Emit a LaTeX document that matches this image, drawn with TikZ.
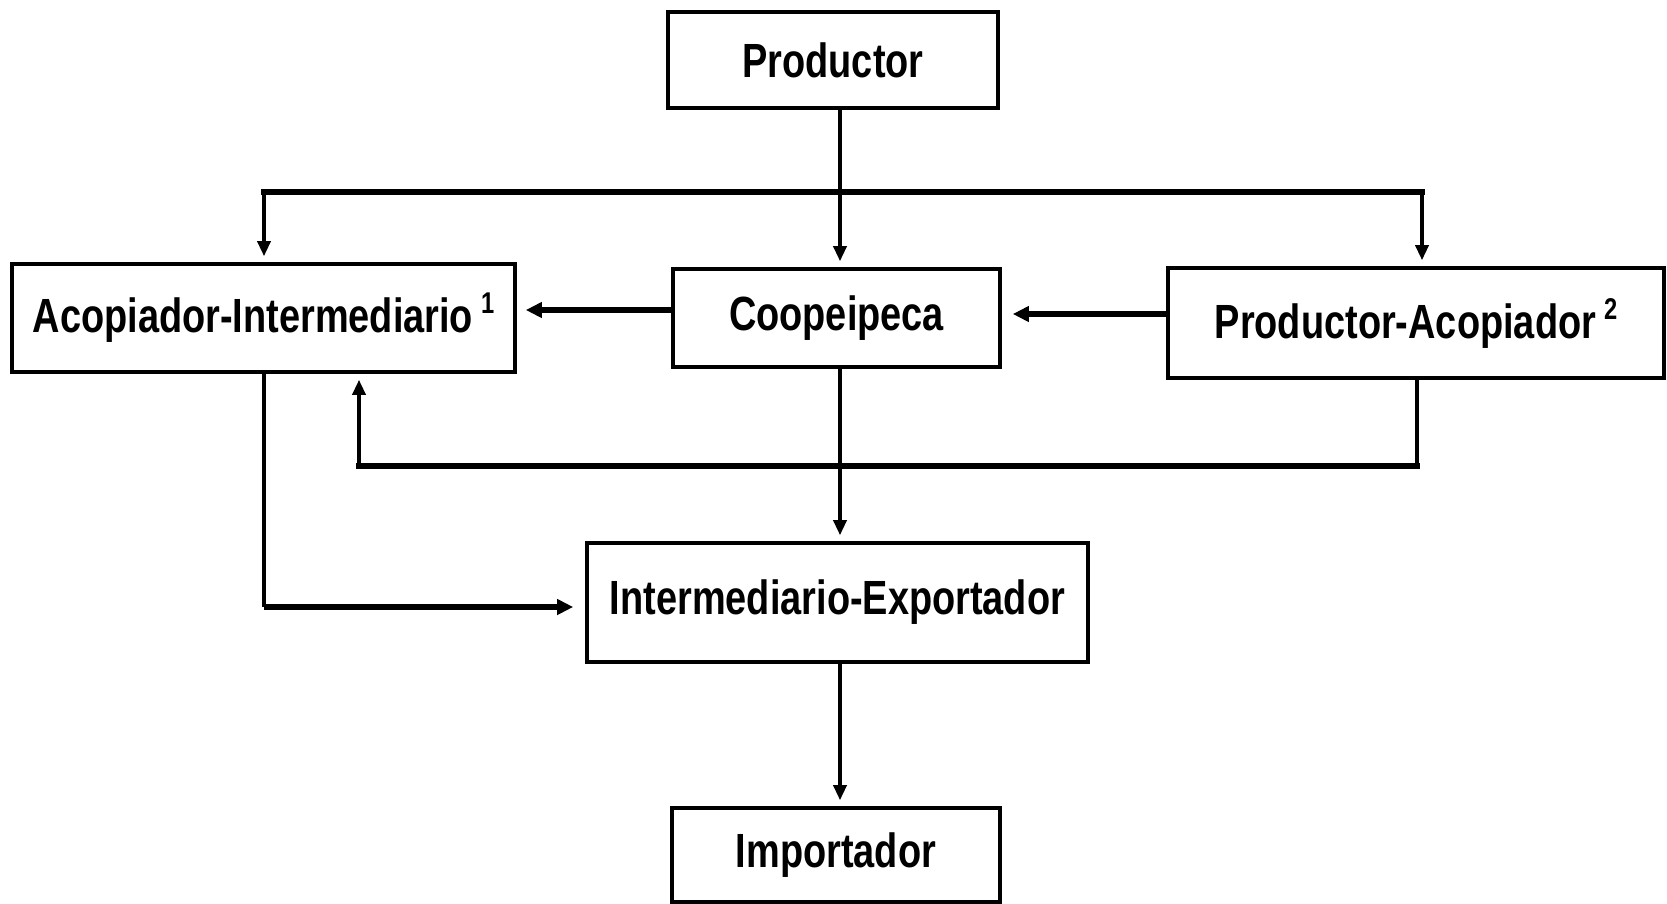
\documentclass[tikz,border=0pt]{standalone}
\usepackage{fontspec}
\setmainfont{Liberation Sans}[FakeStretch=0.79]
\usetikzlibrary{arrows.meta}
\newcommand{\supr}[1]{\,\raisebox{19pt}{\fontsize{30}{30}\selectfont #1}}
\tikzset{
  box/.style={draw, line width=3.6pt, rectangle, inner sep=0pt, align=center,
    font=\fontsize{48}{50}\selectfont\bfseries},
  conn/.style={line width=3.4pt, -{Triangle[length=15pt,width=13pt]}, shorten >=6pt},
  plain/.style={line width=3.4pt},
  hline/.style={line width=6pt, line cap=rect},
  harrow/.style={line width=6pt, -{Triangle[length=16pt,width=15pt]}},
}
\begin{document}
\begin{tikzpicture}[x=1pt,y=-1pt]
\useasboundingbox (0,0) rectangle (1667,903);
\node[box, minimum width=330pt, minimum height=96pt] (P) at (833,60) {Productor};
\node[box, minimum width=503pt, minimum height=108pt] (A) at (263.5,318) {Acopiador-Intermediario\supr{1}};
\node[box, minimum width=327pt, minimum height=98pt] (C) at (836.5,318) {Coopeipeca};
\node[box, minimum width=496pt, minimum height=110pt] (PA) at (1416,323) {\raisebox{-8pt}{Productor-Acopiador\supr{2}}};
\node[box, minimum width=501pt, minimum height=119pt] (IE) at (837.5,602.5) {Intermediario-Exportador};
\node[box, minimum width=328pt, minimum height=94pt] (I) at (836,855) {Importador};
% coordinates
\coordinate (busL) at (264,192);
\coordinate (busR) at (1422,192);
\coordinate (retR) at (1417,466);
\coordinate (retL) at (359,466);
\coordinate (lowL) at (264,607);
% Productor -> Coopeipeca
\draw[conn] (P.south -| 840,0) -- (C.north -| 840,0);
% top bus
\draw[hline] (busL) -- (busR);
\draw[conn] (busL) -- (A.north -| busL);
\draw[conn] (busR) -- (PA.north -| busR);
% Coopeipeca -> Acopiador
\draw[harrow, shorten >=9pt] (C.west |- 0,310) -- (A.east |- 0,310);
% Productor-Acopiador -> Coopeipeca
\draw[harrow, shorten >=11pt] (PA.west |- 0,314) -- (C.east |- 0,314);
% return line PA -> Acopiador
\draw[plain] (PA.south -| retR) -- (retR);
\draw[hline] (retR) -- (retL);
\draw[conn] (retL) -- (A.south -| retL);
% Coopeipeca -> Intermediario-Exportador
\draw[conn] (C.south -| 840,0) -- (IE.north -| 840,0);
% Acopiador -> Intermediario-Exportador
\draw[plain] (A.south -| lowL) -- (lowL);
\draw[harrow, shorten >=12pt] (lowL) -- (IE.west |- lowL);
% Intermediario-Exportador -> Importador
\draw[conn] (IE.south -| 840,0) -- (I.north -| 840,0);
\end{tikzpicture}
\end{document}
